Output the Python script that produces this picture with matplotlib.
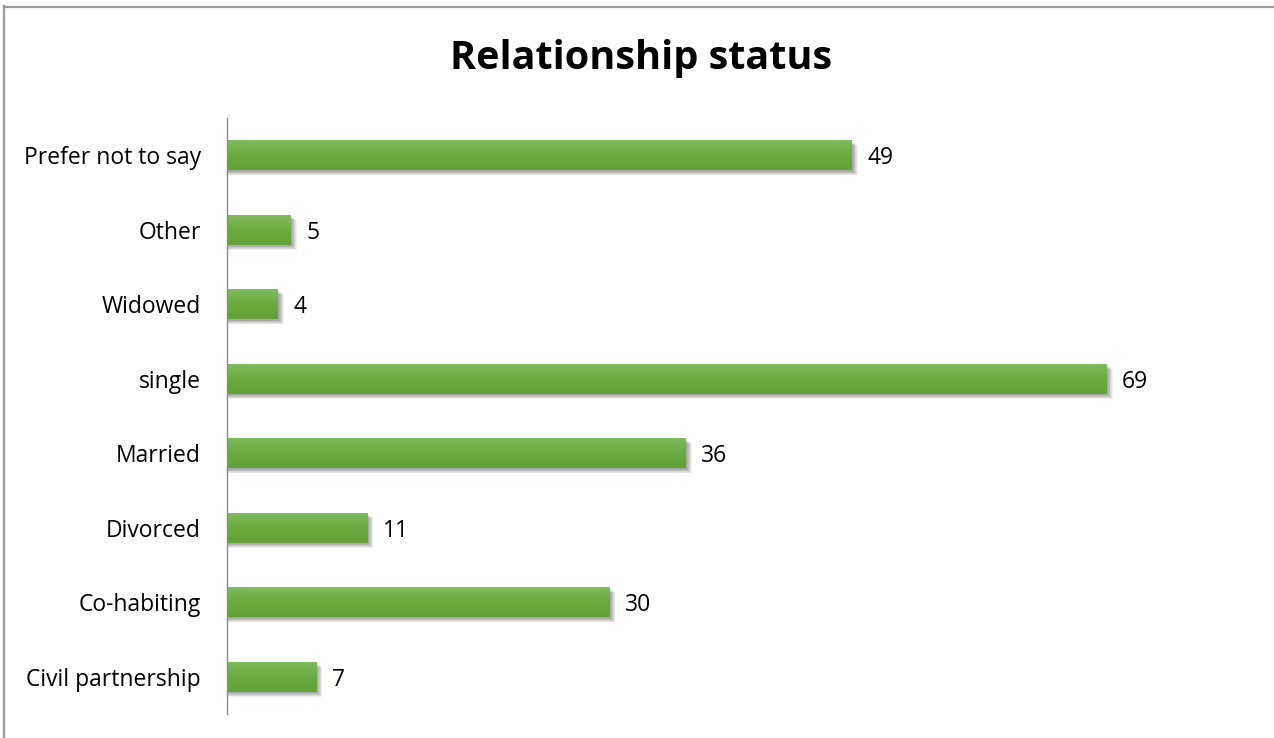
import numpy as np
import matplotlib.pyplot as plt
import matplotlib.transforms as mtransforms
from matplotlib.colors import LinearSegmentedColormap
from matplotlib.lines import Line2D

categories = ["Civil partnership", "Co-habiting", "Divorced", "Married",
              "single", "Widowed", "Other", "Prefer not to say"]
counts = [7, 30, 11, 36, 69, 4, 5, 49]

W, H, DPI = 1274, 738, 100
fig = plt.figure(figsize=(W / DPI, H / DPI), dpi=DPI)
fig.patch.set_facecolor("white")

# chart frame (top and left edges visible)
fig.add_artist(Line2D([4 / W, 4 / W], [0, 1 - 6 / H], color="#9a9a9a", lw=1.6))
fig.add_artist(Line2D([4 / W, 1], [1 - 6.5 / H, 1 - 6.5 / H], color="#9a9a9a", lw=1.6))

ax = fig.add_axes([227 / W, 1 - 714 / H, (1247 - 227) / W, (714 - 118) / H])
ax.set_xlim(0, 80)
ax.set_ylim(-0.5, len(categories) - 0.5)

bar_h = 0.40
green = LinearSegmentedColormap.from_list("g", ["#80bb5e", "#6aab3e", "#62a136"])
grad = np.linspace(0, 1, 64).reshape(-1, 1)

shift_down = mtransforms.ScaledTranslation(0, -3 / DPI, fig.dpi_scale_trans)
label_tf = (mtransforms.blended_transform_factory(ax.transAxes, ax.transData)
            + mtransforms.ScaledTranslation(-26 / DPI, -3 / DPI, fig.dpi_scale_trans))

for i, v in enumerate(counts):
    y0 = i - bar_h / 2
    # soft drop shadow
    for k in range(7):
        off_x = 0.10 + 0.06 * k
        off_y = 0.02 + 0.008 * k
        ax.add_patch(plt.Rectangle((0, y0 - off_y), v + off_x, bar_h,
                                   color="#000000", alpha=0.055, lw=0, zorder=1))
    ax.imshow(grad, cmap=green, aspect="auto",
              extent=(0, v, y0, y0 + bar_h), origin="upper", zorder=2,
              interpolation="bilinear")
    ax.text(v + 1.2, i, str(v), va="center", ha="left",
            fontsize=16.5, family="Open Sans", color="#000000",
            transform=ax.transData + shift_down)

# category labels to the left of the axis line
for i, name in enumerate(categories):
    ax.text(0, i, name, va="center", ha="right", fontsize=16.5,
            family="Open Sans", color="#000000", transform=label_tf,
            clip_on=False)

ax.set_yticks([])
ax.set_xticks([])
for s in ["top", "right", "bottom"]:
    ax.spines[s].set_visible(False)
ax.spines["left"].set_color("#8c8c8c")
ax.spines["left"].set_linewidth(1.0)

fig.text(641 / W, 1 - 59 / H, "Relationship status", ha="center", va="center",
         fontsize=28.5, fontweight="bold", family="Open Sans")

fig.savefig("out.png", dpi=DPI)
